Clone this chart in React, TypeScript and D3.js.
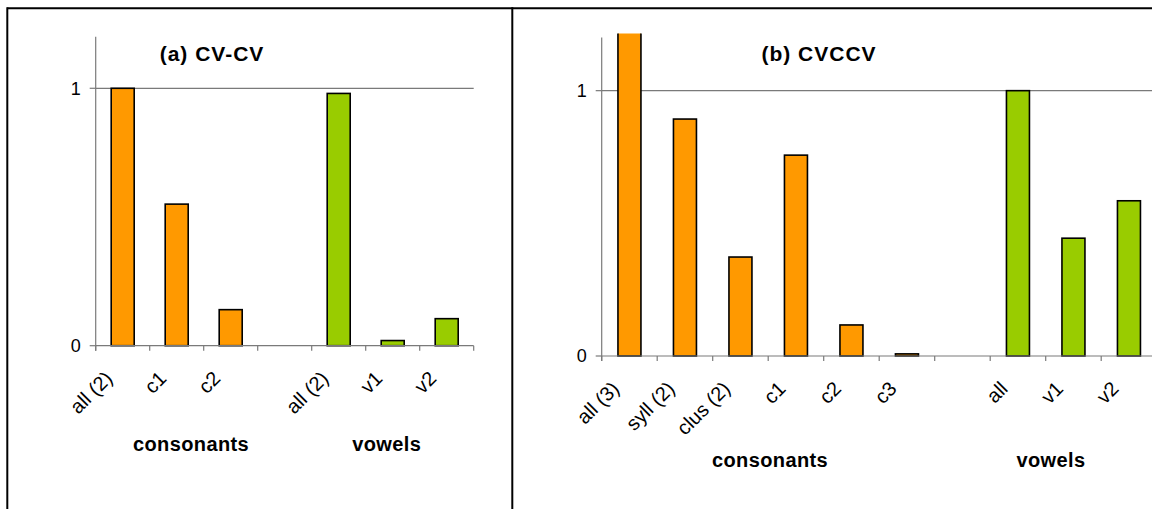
import React from "react";
import * as d3 from "d3";

// panel (a) CV-CV
const cvcvLabels = ["all (2)", "c1", "c2", "", "all (2)", "v1", "v2"];
const cvcvValues = [1.0, 0.55, 0.14, null, 0.98, 0.02, 0.105];
const cvcvGroups = ["c", "c", "c", null, "v", "v", "v"];

// panel (b) CVCCV
const cvccvLabels = ["all (3)", "syll (2)", "clus (2)", "c1", "c2", "c3", "", "all", "v1", "v2"];
const cvccvValues = [1.3, 0.893, 0.373, 0.757, 0.117, 0.008, null, 1.0, 0.444, 0.585];
const cvccvGroups = ["c", "c", "c", "c", "c", "c", null, "v", "v", "v"];

const yTicks = [0, 1];
const groupNames = ["consonants", "vowels"];

const W = 1152;
const H = 509;
const FONT = "'Liberation Sans', Arial, Helvetica, sans-serif";
const COLORS: Record<string, string> = { c: "#FF9900", v: "#99CC00" };

type PanelProps = {
  id: string;
  title: string;
  titleX: number;
  labels: string[];
  values: (number | null)[];
  groups: (string | null)[];
  x0: number;
  bandW: number;
  yZero: number;
  yTop: number;
  gridEnd: number;
  groupX: number[];
  groupY: number;
};

function Panel(p: PanelProps) {
  const n = p.labels.length;
  const x = d3
    .scaleBand<number>()
    .domain(d3.range(n))
    .range([p.x0, p.x0 + n * p.bandW])
    .paddingInner(0)
    .paddingOuter(0);
  const y = d3.scaleLinear().domain([0, 1.2]).range([p.yZero, p.yTop]);
  const barW = 23;
  const xEnd = p.x0 + n * p.bandW;

  return (
    <g>
      <defs>
        <clipPath id={`clip-${p.id}`}>
          <rect x={p.x0} y={p.yTop - 4} width={xEnd - p.x0 + 10} height={p.yZero - p.yTop + 10} />
        </clipPath>
      </defs>

      {/* gridline at 1 */}
      <line x1={p.x0} x2={p.gridEnd} y1={y(1)} y2={y(1)} stroke="#7a7a7a" strokeWidth={1.2} />

      {/* y axis */}
      <line x1={p.x0} x2={p.x0} y1={p.yTop} y2={p.yZero + 5} stroke="#7a7a7a" strokeWidth={1.2} />
      {yTicks.map((t) => (
        <g key={t}>
          <line x1={p.x0 - 6} x2={p.x0} y1={y(t)} y2={y(t)} stroke="#7a7a7a" strokeWidth={1.2} />
          <text
            x={p.x0 - 15}
            y={y(t)}
            dy="0.36em"
            textAnchor="end"
            fontSize={18}
            fontFamily={FONT}
            fill="#000"
          >
            {t}
          </text>
        </g>
      ))}

      {/* bars */}
      <g clipPath={`url(#clip-${p.id})`}>
        {p.values.map((v, i) =>
          v == null ? null : (
            <rect
              key={i}
              x={(x(i) as number) + x.bandwidth() / 2 - barW / 2}
              y={y(v)}
              width={barW}
              height={Math.max(0, p.yZero - y(v))}
              fill={COLORS[p.groups[i] as string]}
              stroke="#000"
              strokeWidth={1.6}
            />
          )
        )}
      </g>

      {/* x axis */}
      <line x1={p.x0} x2={xEnd} y1={p.yZero} y2={p.yZero} stroke="#7a7a7a" strokeWidth={1.2} />
      {d3.range(n + 1).map((i) => (
        <line
          key={i}
          x1={p.x0 + i * p.bandW}
          x2={p.x0 + i * p.bandW}
          y1={p.yZero}
          y2={p.yZero + 5}
          stroke="#7a7a7a"
          strokeWidth={1.2}
        />
      ))}
      {p.labels.map((lab, i) => {
        if (!lab) return null;
        const cx = (x(i) as number) + x.bandwidth() / 2 - 9;
        const cy = p.yZero + 34;
        return (
          <text
            key={i}
            transform={`translate(${cx},${cy}) rotate(-45)`}
            textAnchor="end"
            fontSize={20}
            fontFamily={FONT}
            fill="#000"
          >
            {lab}
          </text>
        );
      })}

      {/* group labels */}
      {groupNames.map((g, i) => (
        <text
          key={g}
          x={p.groupX[i]}
          y={p.groupY}
          textAnchor="middle"
          fontSize={20}
          fontWeight="bold"
          letterSpacing={0.4}
          fontFamily={FONT}
          fill="#000"
        >
          {g}
        </text>
      ))}

      {/* title */}
      <text
        x={p.titleX}
        y={61}
        textAnchor="middle"
        fontSize={21}
        fontWeight="bold"
        letterSpacing={1}
        fontFamily={FONT}
        fill="#000"
      >
        {p.title}
      </text>
    </g>
  );
}

export default function App() {
  return (
    <svg
      width={W}
      height={H}
      style={{ position: "absolute", left: 0, top: 0, background: "#fff" }}
    >
      <rect x={0} y={0} width={W} height={H} fill="#fff" />

      <Panel
        id="a"
        title="(a) CV-CV"
        titleX={212}
        labels={cvcvLabels}
        values={cvcvValues}
        groups={cvcvGroups}
        x0={95.7}
        bandW={54}
        yZero={345.7}
        yTop={36.8}
        gridEnd={473.7}
        groupX={[191, 386.7]}
        groupY={450.5}
      />
      <Panel
        id="b"
        title="(b) CVCCV"
        titleX={819}
        labels={cvccvLabels}
        values={cvccvValues}
        groups={cvccvGroups}
        x0={601.7}
        bandW={55.5}
        yZero={356}
        yTop={37.6}
        gridEnd={W}
        groupX={[770, 1051]}
        groupY={466.7}
      />

      {/* frame */}
      <line x1={7.3} x2={W} y1={8.3} y2={8.3} stroke="#000" strokeWidth={2} />
      <line x1={7.3} x2={7.3} y1={7.3} y2={H} stroke="#000" strokeWidth={2} />
      <line x1={512.3} x2={512.3} y1={7.3} y2={H} stroke="#000" strokeWidth={2} />
    </svg>
  );
}
